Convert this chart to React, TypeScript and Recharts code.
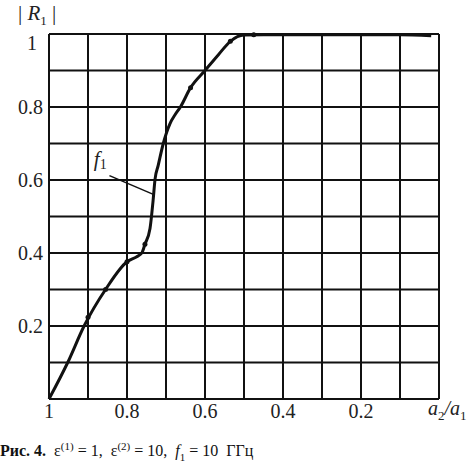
import {
  LineChart,
  Line,
  XAxis,
  YAxis,
  CartesianGrid,
  ReferenceLine,
  ReferenceDot,
  Scatter,
} from "recharts";

// a2/a1 (runs from 1 down to 0) against |R1|
const ratio = [
  1, 0.952, 0.91, 0.855, 0.8, 0.775, 0.762, 0.754, 0.741, 0.733, 0.728, 0.72,
  0.707, 0.69, 0.676, 0.663, 0.637, 0.6, 0.565, 0.535, 0.5, 0.45, 0.3, 0.1,
  0.02,
];
const reflection = [
  0, 0.1, 0.2, 0.3, 0.376, 0.39, 0.4, 0.424, 0.467, 0.545, 0.603, 0.64, 0.7,
  0.754, 0.78, 0.8, 0.853, 0.9, 0.944, 0.98, 0.997, 0.998, 0.998, 0.998, 0.995,
];

// small measured points drawn on the curve
const markerRatio = [0.9, 0.855, 0.8, 0.754, 0.637, 0.535, 0.475];
const markerValue = [0.224, 0.3, 0.376, 0.424, 0.853, 0.98, 0.998];

const gridTicks = [0, 0.1, 0.2, 0.3, 0.4, 0.5, 0.6, 0.7, 0.8, 0.9, 1];
const xLabels = [1, 0.8, 0.6, 0.4, 0.2];
const yLabels = [1, 0.8, 0.6, 0.4, 0.2];

const curve = ratio.map((x, i) => ({ x, r: reflection[i] }));
const markers = markerRatio.map((x, i) => ({ x, r: markerValue[i] }));

const serif = "Liberation Serif, Times New Roman, Times, DejaVu Serif, serif";
const ink = "#111";

const fmt = (labels: number[]) => (v: number) => {
  const hit = labels.find((l) => Math.abs(l - v) < 1e-6);
  if (hit === undefined) return "";
  return String(hit);
};

function YTick(props: any) {
  const { x, y, payload } = props;
  const text = fmt(yLabels)(payload.value);
  if (!text) return null;
  // the top label sits a little lower and further left in the original
  const top = text === "1";
  return (
    <text
      x={top ? x - 6 : x}
      y={top ? y + 9 : y}
      dy="0.35em"
      textAnchor="end"
      fontFamily={serif}
      fontSize={20}
      fill="#222"
    >
      {text}
    </text>
  );
}

function F1Label(props: any) {
  const { cx, cy } = props;
  return (
    <text x={cx} y={cy} fontFamily={serif} fontSize={21} fill="#222">
      <tspan fontStyle="italic">f</tspan>
      <tspan fontSize={14} dy={3}>
        1
      </tspan>
    </text>
  );
}

export default function App() {
  return (
    <div
      style={{
        position: "absolute",
        left: 0,
        top: 0,
        width: 475,
        height: 462,
        background: "#fff",
      }}
    >
      <LineChart
        width={475}
        height={430}
        data={curve}
        margin={{ top: 34, right: 36, bottom: 6, left: 0 }}
      >
        <CartesianGrid stroke={ink} strokeWidth={2} />
        <XAxis
          dataKey="x"
          type="number"
          domain={[0, 1]}
          reversed
          ticks={gridTicks}
          tickFormatter={fmt(xLabels)}
          tickLine={false}
          tickSize={0}
          tickMargin={5}
          height={25}
          axisLine={{ stroke: ink, strokeWidth: 2 }}
          tick={{ fontFamily: serif, fontSize: 20, fill: "#222" }}
          interval={0}
        />
        <YAxis
          dataKey="r"
          type="number"
          domain={[0, 1]}
          ticks={gridTicks}
          width={49}
          tickLine={false}
          tickSize={0}
          tickMargin={6}
          axisLine={{ stroke: ink, strokeWidth: 2 }}
          tick={<YTick />}
          interval={0}
        />
        <Line
          type="monotone"
          dataKey="r"
          stroke={ink}
          strokeWidth={3}
          dot={false}
          isAnimationActive={false}
        />
        <Scatter
          data={markers}
          dataKey="r"
          fill={ink}
          shape={(p: any) => <circle cx={p.cx} cy={p.cy} r={2.5} fill={ink} />}
          isAnimationActive={false}
        />
        <ReferenceLine
          segment={[
            { x: 0.845, y: 0.612 },
            { x: 0.731, y: 0.56 },
          ]}
          stroke={ink}
          strokeWidth={1.5}
        />
        <ReferenceDot x={0.885} y={0.637} r={0} shape={<F1Label />} />
      </LineChart>

      <div
        style={{
          position: "absolute",
          left: 18,
          top: 1,
          fontFamily: serif,
          fontSize: 21,
          color: "#222",
          whiteSpace: "pre",
        }}
      >
        {"| "}
        <i>R</i>
        <sub style={{ fontSize: 13 }}>1</sub>
        {" |"}
      </div>

      <div
        style={{
          position: "absolute",
          left: 428,
          top: 397,
          fontFamily: serif,
          fontSize: 20,
          color: "#222",
          whiteSpace: "pre",
        }}
      >
        <i>a</i>
        <sub style={{ fontSize: 13 }}>2</sub>
        <i>/a</i>
        <sub style={{ fontSize: 13 }}>1</sub>
      </div>

      <div
        style={{
          position: "absolute",
          left: 0,
          top: 440,
          fontFamily: serif,
          fontSize: 16,
          color: "#111",
          whiteSpace: "pre",
        }}
      >
        <b>Рис. 4.</b>
        {"  ε"}
        <sup style={{ fontSize: 11 }}>(1)</sup>
        {" = 1,  ε"}
        <sup style={{ fontSize: 11 }}>(2)</sup>
        {" = 10,  "}
        <i>f</i>
        <sub style={{ fontSize: 11 }}>1</sub>
        {" = 10  ГГц"}
      </div>
    </div>
  );
}
